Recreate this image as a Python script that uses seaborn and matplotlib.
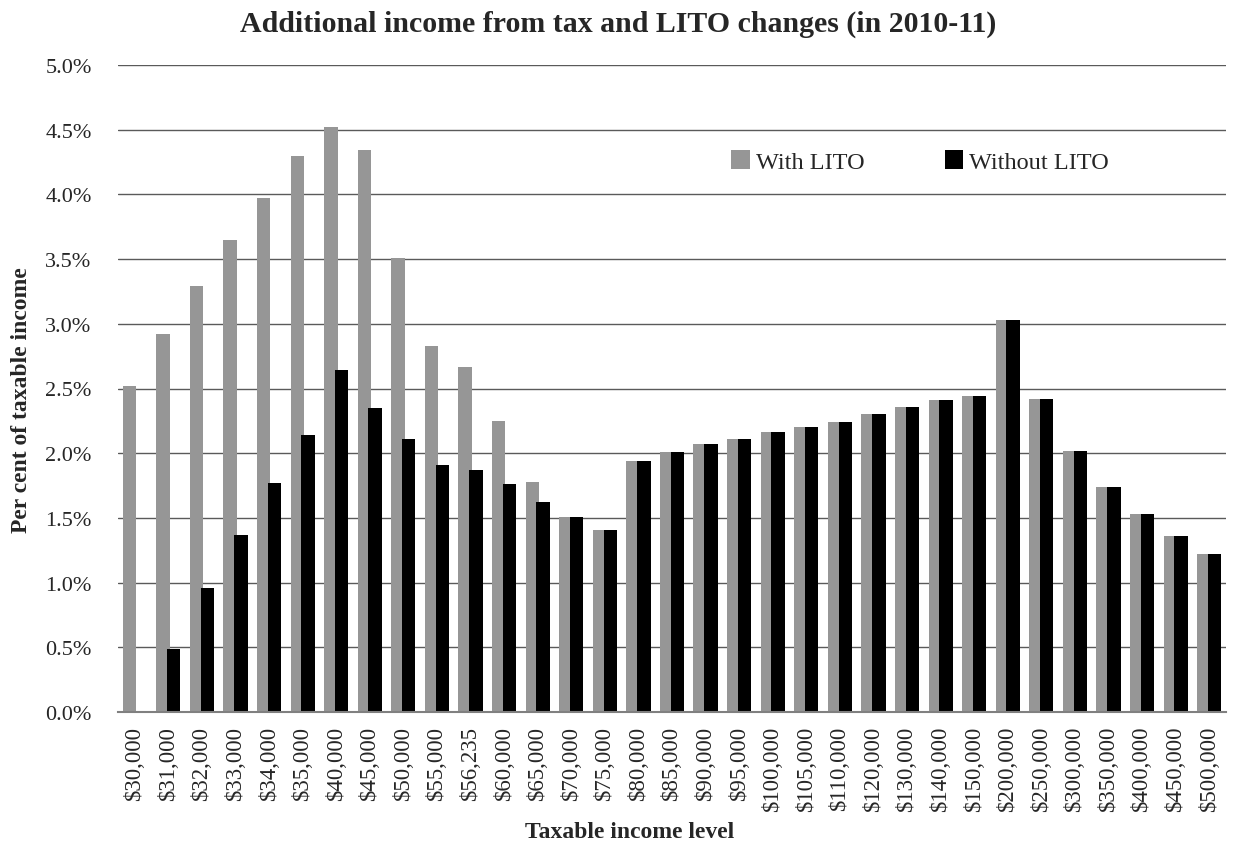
import matplotlib
matplotlib.use("Agg")
import matplotlib.pyplot as plt
import seaborn as sns
import pandas as pd
import numpy as np
from matplotlib.ticker import FixedLocator, FuncFormatter

categories = ["$30,000", "$31,000", "$32,000", "$33,000", "$34,000", "$35,000",
              "$40,000", "$45,000", "$50,000", "$55,000", "$56,235", "$60,000",
              "$65,000", "$70,000", "$75,000", "$80,000", "$85,000", "$90,000",
              "$95,000", "$100,000", "$105,000", "$110,000", "$120,000", "$130,000",
              "$140,000", "$150,000", "$200,000", "$250,000", "$300,000", "$350,000",
              "$400,000", "$450,000", "$500,000"]

with_lito = [2.52, 2.92, 3.29, 3.65, 3.97, 4.30, 4.52, 4.34, 3.51, 2.83, 2.67, 2.25,
             1.78, 1.51, 1.41, 1.94, 2.01, 2.07, 2.11, 2.16, 2.20, 2.24, 2.30, 2.36,
             2.41, 2.44, 3.03, 2.42, 2.02, 1.74, 1.53, 1.36, 1.22]

without_lito = [0.0, 0.49, 0.96, 1.37, 1.77, 2.14, 2.64, 2.35, 2.11, 1.91, 1.87, 1.76,
                1.62, 1.51, 1.41, 1.94, 2.01, 2.07, 2.11, 2.16, 2.20, 2.24, 2.30, 2.36,
                2.41, 2.44, 3.03, 2.42, 2.02, 1.74, 1.53, 1.36, 1.22]

series_names = ["With LITO", "Without LITO"]
colors = ["#969696", "#000000"]

df = pd.DataFrame({
    "income": categories * 2,
    "value": with_lito + without_lito,
    "series": [series_names[0]] * len(categories) + [series_names[1]] * len(categories),
})

sns.set_style("white")
plt.rcParams["font.family"] = ["Liberation Serif", "DejaVu Serif"]

W, H = 1235, 845
fig = plt.figure(figsize=(W / 100, H / 100), dpi=100)
ax = fig.add_axes([118 / W, 1 - 713 / H, (1226 - 118) / W, (713 - 66) / H])

sns.barplot(data=df, x="income", y="value", hue="series", order=categories,
            hue_order=series_names, palette=colors, width=0.9, ax=ax,
            saturation=1, legend=True, edgecolor="none", linewidth=0)

# Excel-like narrow bars with slight overlap
for i, cont in enumerate(ax.containers):
    for j, p in enumerate(cont.patches):
        nw = 0.40
        if i == 0:
            p.set_x(j - 0.36)
        else:
            p.set_x(j - 0.04)
        p.set_width(nw)
for p in ax.containers[1].patches:
    p.set_zorder(3)
for p in ax.containers[0].patches:
    p.set_zorder(2)

ax.set_xlim(-0.5, len(categories) - 0.5)
ax.set_ylim(0, 5.0)
ax.set_yticks(np.arange(0, 5.01, 0.5))
ax.yaxis.set_major_formatter(FuncFormatter(lambda v, p: f"{v:.1f}%"))
ax.grid(axis="y", color="#5a5a5a", linewidth=1.0)
ax.set_axisbelow(True)
for s in ["top", "right", "left"]:
    ax.spines[s].set_visible(False)
ax.spines["bottom"].set_color("#808080")
ax.spines["bottom"].set_linewidth(1.5)
ax.spines["bottom"].set_zorder(4)

ax.tick_params(axis="y", length=0, labelsize=16, pad=19)
ax.tick_params(axis="x", which="major", length=0, labelsize=16.5, rotation=90, pad=10)
ax.xaxis.set_minor_locator(FixedLocator(np.arange(-0.5, len(categories) - 0.5, 4)))
ax.tick_params(axis="x", which="minor", length=5, width=1, color="#555555", direction="out")

ax.set_xlabel("")
ax.set_ylabel("")
fig.text(630 / W, 1 - 838 / H, "Taxable income level", fontsize=17, fontweight="bold",
         ha="center", va="baseline")
fig.text(22 / W, 1 - 400 / H, "Per cent of taxable income", fontsize=17, fontweight="bold",
         ha="center", va="center", rotation=90)
fig.text(618 / W, 1 - 32 / H, "Additional income from tax and LITO changes (in 2010-11)",
         fontsize=21.5, fontweight="bold", ha="center", va="baseline")

handles, labels = ax.get_legend_handles_labels()
leg = ax.legend(handles, labels, loc="upper left", bbox_to_anchor=(731 / W, 1 - 151 / H),
                bbox_transform=fig.transFigure, ncol=2, frameon=False,
                fontsize=17.5, handlelength=0.77, handleheight=0.85, handletextpad=0.25,
                columnspacing=3.3, borderpad=0, borderaxespad=0)

fig.savefig("out.png", dpi=100)
